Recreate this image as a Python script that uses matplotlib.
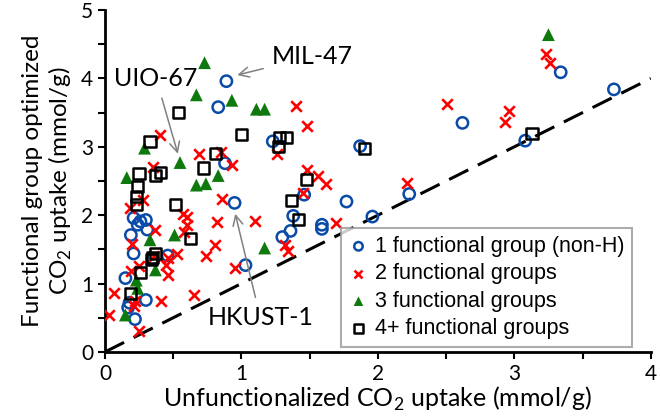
import matplotlib
matplotlib.use("Agg")
import matplotlib.pyplot as plt
from matplotlib.ticker import MultipleLocator

plt.rcParams["font.family"] = ["Lato", "DejaVu Sans"]

# 1 functional group (non-H)
one_x = [0.89, 0.83, 1.23, 0.88, 2.62, 1.87, 3.34, 3.73, 3.08, 1.46, 1.77, 2.23, 1.38,
         1.59, 1.59, 1.96, 1.36, 1.30, 0.95, 1.03, 0.21, 0.26, 0.30, 0.24, 0.31, 0.19,
         0.21, 0.35, 0.46, 0.15, 0.30, 0.18, 0.17, 0.22]
one_y = [3.96, 3.58, 3.08, 2.76, 3.35, 3.01, 4.09, 3.84, 3.09, 2.30, 2.20, 2.31, 1.99,
         1.86, 1.80, 1.98, 1.77, 1.68, 2.18, 1.27, 1.96, 1.91, 1.93, 1.86, 1.79, 1.71,
         1.44, 1.36, 1.41, 1.08, 0.76, 0.72, 0.65, 0.48]

# 2 functional groups
two_x = [1.40, 1.48, 2.51, 3.23, 3.26, 2.96, 2.93, 1.26, 0.40, 0.69, 0.85, 0.93, 0.35,
         1.48, 1.56, 1.62, 1.45, 2.21, 1.69, 1.32, 1.34, 0.86, 0.82, 1.10, 0.81, 0.74,
         0.95, 0.28, 0.18, 0.57, 0.60, 0.60, 0.58, 0.37, 0.20, 0.36, 0.46, 0.53, 0.45,
         0.46, 0.19, 0.25, 0.07, 0.22, 0.21, 0.41, 0.65, 0.03, 0.25]
two_y = [3.60, 3.31, 3.63, 4.36, 4.23, 3.53, 3.36, 2.90, 3.18, 2.90, 2.92, 2.74, 2.70,
         2.66, 2.58, 2.45, 2.33, 2.47, 1.88, 1.57, 1.47, 2.23, 1.90, 1.92, 1.56, 1.41,
         1.23, 2.22, 2.10, 2.02, 1.97, 1.85, 1.76, 1.79, 1.58, 1.40, 1.38, 1.43, 1.27,
         1.13, 1.19, 1.25, 0.86, 0.74, 0.67, 0.74, 0.83, 0.54, 0.30]

# 3 functional groups
three_x = [3.25, 0.73, 0.67, 0.93, 1.11, 1.17, 0.29, 0.55, 0.16, 0.83, 0.67, 0.74, 1.17,
           0.33, 0.51, 0.37, 0.23, 0.24, 0.15]
three_y = [4.64, 4.23, 3.76, 3.68, 3.55, 3.55, 2.98, 2.77, 2.55, 2.58, 2.44, 2.46, 1.52,
           1.64, 1.71, 1.20, 1.05, 0.93, 0.54]

# 4+ functional groups
four_x = [0.54, 1.00, 1.28, 1.33, 1.27, 0.33, 0.81, 0.72, 0.25, 0.41, 0.37, 1.90, 1.48,
          1.37, 1.42, 3.13, 0.24, 0.23, 0.23, 0.52, 0.63, 0.37, 0.35, 0.34, 0.26, 0.19]
four_y = [3.50, 3.18, 3.13, 3.14, 3.01, 3.08, 2.90, 2.69, 2.61, 2.62, 2.58, 2.97, 2.52,
          2.22, 1.94, 3.19, 2.42, 2.27, 2.15, 2.15, 1.66, 1.44, 1.38, 1.35, 1.16, 0.86]

# labelled MOFs: (name, point, text position)
callouts = [
    ("MIL-47", (0.95, 4.04), (1.22, 4.32)),
    ("UIO-67", (0.54, 2.86), (0.07, 4.00)),
    ("HKUST-1", (0.95, 2.06), (0.75, 0.51)),
]

fig = plt.figure(figsize=(6.6, 4.19), dpi=100)
ax = fig.add_axes([0.159, 0.160, 0.827, 0.816])

ax.plot([0, 4], [0, 4], color="black", linewidth=2.2, dashes=(7, 3.5), zorder=1)

ax.scatter(one_x, one_y, s=66, marker="o", facecolors="none", edgecolors="#0B4BA8",
           linewidths=1.8, label="1 functional group (non-H)", zorder=3)
ax.scatter(two_x, two_y, s=58, marker="x", color="#FF0000", linewidths=1.9,
           label="2 functional groups", zorder=3)
ax.scatter(three_x, three_y, s=85, marker="^", color="#0E7A0E", edgecolors="none",
           label="3 functional groups", zorder=3)
ax.scatter(four_x, four_y, s=64, marker="s", facecolors="none", edgecolors="black",
           linewidths=1.8, label="4+ functional groups", zorder=3)

for name, xy, xytext in callouts:
    ax.annotate(name, xy=xy, xytext=xytext, fontsize=18, ha="left", va="center",
                arrowprops=dict(arrowstyle="->", color="#808080", lw=1.1,
                                shrinkA=4, shrinkB=2))

ax.set_xlim(0, 4)
ax.set_ylim(0, 5)
ax.xaxis.set_major_locator(MultipleLocator(1))
ax.xaxis.set_minor_locator(MultipleLocator(0.5))
ax.yaxis.set_major_locator(MultipleLocator(1))
ax.yaxis.set_minor_locator(MultipleLocator(0.5))
ax.tick_params(which="both", direction="out", length=5, width=1.5)
ax.tick_params(labelsize=15)
for side in ("top", "right"):
    ax.spines[side].set_visible(False)
for side in ("left", "bottom"):
    ax.spines[side].set_linewidth(2)

ax.set_xlabel(r"Unfunctionalized CO$_\mathregular{2}$ uptake (mmol/g)", fontsize=18,
              labelpad=1)
ax.set_ylabel("Functional group optimized\n" + r"CO$_\mathregular{2}$ uptake (mmol/g)",
              fontsize=17.5, labelpad=5)

leg = ax.legend(loc="lower right", bbox_to_anchor=(0.965, 0.015), borderaxespad=0,
                prop={"family": ["Liberation Sans Narrow", "Liberation Sans"], "size": 15.5},
                frameon=True, fancybox=False, edgecolor="#999999", borderpad=0.35,
                handletextpad=0.3, handlelength=0.9, markerscale=0.75, labelspacing=0.3)
leg.get_frame().set_linewidth(1.5)

fig.savefig("out.png", dpi=100)
